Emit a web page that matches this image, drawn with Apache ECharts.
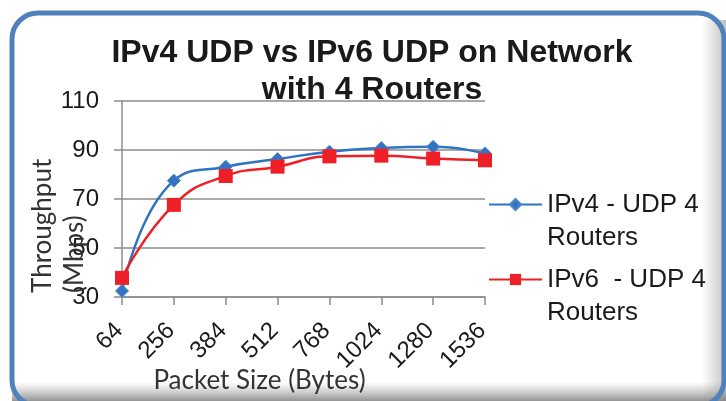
<!DOCTYPE html>
<html><head><meta charset="utf-8">
<script src="https://cdn.jsdelivr.net/npm/echarts@6/dist/echarts.min.js"></script>
<style>html,body{margin:0;padding:0;background:#fff}#c{width:726px;height:401px}</style>
</head><body><div id="c"></div>
<script>
const categories = ['64','256','384','512','768','1024','1280','1536'];
const ipv4Values = [32.5, 77.5, 83.2, 86.3, 89.3, 90.8, 91.3, 88.6];
const ipv6Values = [37.8, 67.6, 79.4, 83.2, 87.4, 87.7, 86.5, 85.8];
const yTicks = {min: 30, max: 110, interval: 20};
const titleText = 'IPv4 UDP vs IPv6 UDP on Network\nwith 4 Routers';
const seriesNames = ['IPv4 - UDP 4\nRouters', 'IPv6  - UDP 4\nRouters'];
const xName = 'Packet Size (Bytes)';
const yName = 'Throughput\n(Mbps)';

const chart = echarts.init(document.getElementById('c'), null, {renderer: 'canvas'});
const arial = "'Liberation Sans', Arial, sans-serif";
chart.setOption({
  backgroundColor: '#ffffff',
  animation: false,
  title: {
    text: titleText, left: 372, top: 35, padding: 0, textAlign: 'center',
    textStyle: {fontFamily: arial, fontWeight: 'bold', fontSize: 32, lineHeight: 37, color: '#1a1a1a'}
  },
  legend: {
    orient: 'vertical', left: 488, top: 155, padding: 0, itemGap: -24,
    itemWidth: 53, itemHeight: 14,
    formatter: function (n) { return '\n' + n; },
    textStyle: {fontFamily: arial, fontSize: 26, lineHeight: 33, color: '#1a1a1a'},
    data: seriesNames
  },
  grid: {left: 122, top: 101, right: 241, bottom: 104, containLabel: false, outerBoundsMode: 'none'},
  xAxis: {
    type: 'category', data: categories, boundaryGap: false,
    name: xName, nameLocation: 'middle', nameGap: 71, nameMoveOverlap: false,
    nameTextStyle: {fontFamily: 'Lato, sans-serif', fontSize: 26, color: '#333', padding: [0, 88, 0, 0]},
    axisLine: {lineStyle: {color: '#8c8c8c', width: 1.5}},
    axisTick: {show: true, alignWithLabel: true, length: 8, lineStyle: {color: '#8c8c8c', width: 1.5}},
    axisLabel: {rotate: 45, margin: 27, padding: [0, 4, 0, 0], fontFamily: arial, fontSize: 24, color: '#1a1a1a'},
    splitLine: {show: false}
  },
  yAxis: {
    type: 'value', min: yTicks.min, max: yTicks.max, interval: yTicks.interval,
    axisLine: {show: true, lineStyle: {color: '#8c8c8c', width: 1.5}},
    axisTick: {show: true, length: 8, lineStyle: {color: '#8c8c8c', width: 1.5}},
    axisLabel: {margin: 23, fontFamily: arial, fontSize: 24, color: '#1a1a1a'},
    splitLine: {show: true, lineStyle: {color: '#8c8c8c', width: 1.5}}
  },
  graphic: [
    {type: 'rect', z: -10, silent: true, shape: {x: 0, y: 0, width: 726, height: 401},
     style: {fill: '#fff'}},
    {type: 'rect', z: -5, silent: true, shape: {x: 702, y: 20, width: 24, height: 381},
     style: {fill: new echarts.graphic.LinearGradient(0, 0, 1, 0, [{offset: 0, color: 'rgba(160,160,160,0)'}, {offset: 1, color: 'rgba(150,150,150,0.6)'}])}},
    {type: 'rect', z: -5, silent: true, shape: {x: 12, y: 382, width: 714, height: 19},
     style: {fill: new echarts.graphic.LinearGradient(0, 0, 0, 1, [{offset: 0, color: 'rgba(160,160,160,0)'}, {offset: 1, color: 'rgba(120,120,120,0.8)'}])}},
    {type: 'rect', z: 100, silent: true, shape: {x: 12, y: 13, width: 712, height: 393, r: 26},
     style: {fill: null, stroke: '#4f81bd', lineWidth: 5}},
    {type: 'text', z: 50, silent: true, x: 59, y: 293, rotation: Math.PI / 2,
     style: {text: yName, fontFamily: 'Lato, sans-serif', fontSize: 26, lineHeight: 32, fill: '#333',
             align: 'left', verticalAlign: 'middle'}}
  ],
  series: [
    {name: seriesNames[0], type: 'line', data: ipv4Values, smooth: 0.5,
     symbol: 'diamond', symbolSize: 13,
     lineStyle: {color: '#2e74c0', width: 2.5},
     itemStyle: {color: '#3573c1', borderColor: '#4a86cf', borderWidth: 1}},
    {name: seriesNames[1], type: 'line', data: ipv6Values, smooth: 0.5,
     symbol: 'rect', symbolSize: 14,
     lineStyle: {color: '#ee1f26', width: 2.5},
     itemStyle: {color: '#ee1f26'}}
  ]
});
</script></body></html>
